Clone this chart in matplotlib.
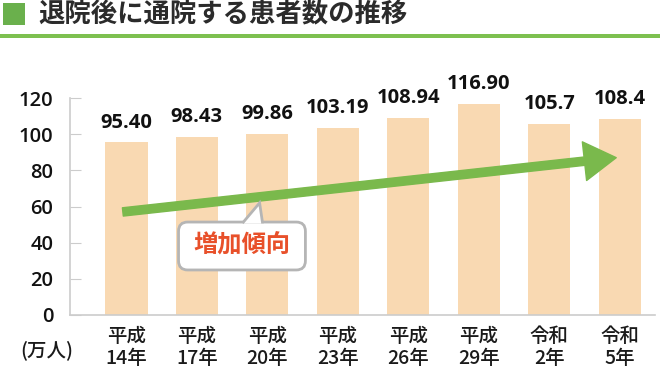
import numpy as np
import matplotlib.pyplot as plt
from matplotlib.patches import FancyBboxPatch, Polygon, Rectangle

plt.rcParams['font.family'] = ['Noto Sans CJK JP', 'DejaVu Sans']

# data
years = ['平成\n14年', '平成\n17年', '平成\n20年', '平成\n23年', '平成\n26年', '平成\n29年', '令和\n2年', '令和\n5年']
patients = [95.40, 98.43, 99.86, 103.19, 108.94, 116.90, 105.7, 108.4]
value_labels = ['95.40', '98.43', '99.86', '103.19', '108.94', '116.90', '105.7', '108.4']
yticks = [0, 20, 40, 60, 80, 100, 120]

bar_color = '#f9d9b2'
green = '#7ab94c'
W, H = 660, 392

fig = plt.figure(figsize=(6.6, 3.92), dpi=100)
ax = fig.add_axes([70 / W, (H - 315) / H, (655 - 70) / W, 217 / H])

x = np.arange(len(years))
ax.bar(x, patients, width=0.6, color=bar_color, zorder=2)
for xi, v, lab in zip(x, patients, value_labels):
    ax.text(xi, v + 5.5, lab, ha='center', va='bottom', fontsize=14.5,
            fontweight='bold', family='Open Sans', color='#111111')

ax.set_xlim(-0.8, 7.5)
ax.set_ylim(0, 120)
ax.set_yticks(yticks)
ax.set_xticks(x)
ax.set_xticklabels(years, fontsize=14, linespacing=1.15, color='#1a1a1a', fontweight='medium')
ax.tick_params(axis='x', length=0, pad=9)
ax.tick_params(axis='y', direction='in', length=8, color='#cccccc',
               labelsize=14.5, pad=12, labelcolor='#111111')
for t in ax.get_yticklabels():
    t.set_family('Open Sans')
    t.set_fontweight('semibold')
for s in ['top', 'right']:
    ax.spines[s].set_visible(False)
for s in ['left', 'bottom']:
    ax.spines[s].set_color('#cccccc')
    ax.spines[s].set_linewidth(1.2)

fig.text(47 / W, 1 - 350 / H, '(万人)', ha='center', va='center', fontsize=14,
         fontweight='medium', color='#1a1a1a')

# trend arrow
ax.annotate('', xy=(6.95, 87), xytext=(-0.05, 57),
            arrowprops=dict(arrowstyle='simple,head_length=1.15,head_width=1.4,tail_width=0.3',
                            color=green, mutation_scale=20, shrinkA=0, shrinkB=0),
            zorder=4)

# callout
asp = 70.5 / 1.808
box = FancyBboxPatch((0.74, 24.9), 2.54 - 0.74, 51.4 - 24.9,
                     boxstyle='round,pad=0,rounding_size=0.13', mutation_aspect=asp,
                     facecolor='white', edgecolor='#b5b5b5', linewidth=2, zorder=5)
ax.add_patch(box)
ax.add_patch(Polygon([(1.66, 50.6), (1.89, 62), (1.93, 50.6)], closed=True,
                     facecolor='white', edgecolor='none', zorder=6))
ax.plot([1.66, 1.89, 1.93], [51.4, 62, 51.4], color='#b5b5b5', lw=2, zorder=7,
        solid_joinstyle='miter')
ax.text(1.64, 38.5, '増加傾向', ha='center', va='center', fontsize=17.5,
        fontweight='bold', color='#e8502a', zorder=8)

# title
fig.patches.append(Rectangle((3 / W, 1 - 25 / H), 22 / W, 22 / H, transform=fig.transFigure,
                             facecolor='#6ab04c', edgecolor='none'))
fig.text(38 / W, 1 - 15 / H, '退院後に通院する患者数の推移', ha='left', va='center',
         fontsize=19, fontweight='bold', color='#2b2b2b')
fig.patches.append(Rectangle((0, 1 - 37.5 / H), 1, 3.5 / H, transform=fig.transFigure,
                             facecolor='#7dc050', edgecolor='none'))

fig.savefig('out.png', dpi=100)
